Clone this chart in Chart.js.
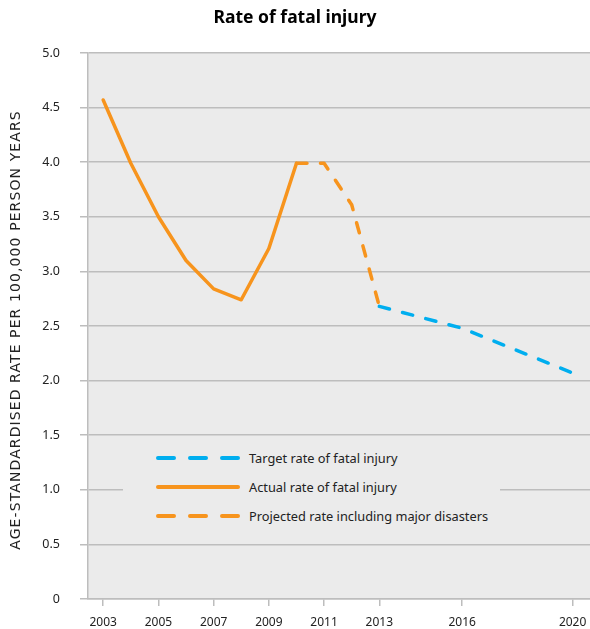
<!DOCTYPE html>
<html lang="en">
<head>
    <meta charset="UTF-8">
    <script src="https://cdn.jsdelivr.net/npm/chart.js"></script>
    <title>Rate of fatal injury</title>
    <style>
        body {
            margin: 0;
            background: #fff;
            font-family: "Noto Sans", sans-serif;
        }
        .wrap {
            position: relative;
            width: 590px;
            height: 629px;
        }
        #legend {
            position: absolute;
            left: 123px;
            top: 444px;
            width: 377px;
            height: 88px;
            background: #ebebeb;
        }
        .row {
            position: absolute;
            left: 33px;
            height: 20px;
            display: flex;
            align-items: center;
            font-size: 12.8px;
            color: #222;
            white-space: nowrap;
        }
        .row svg {
            margin-right: 9px;
        }
    </style>
</head>
<body>

<div class="wrap">
    <canvas id="chart" width="590" height="629"></canvas>
    <div id="legend"></div>
</div>

<script>
    // data
    const actualYears = [2003, 2004, 2005, 2006, 2007, 2008, 2009, 2010];
    const actualRate = [4.57, 3.99, 3.50, 3.10, 2.84, 2.74, 3.21, 3.99];

    const projectedYears = [2010, 2011, 2012, 2013];
    const projectedRate = [3.99, 3.99, 3.61, 2.68];

    const targetYears = [2013, 2016, 2020];
    const targetRate = [2.68, 2.48, 2.07];

    const tickYears = [2003, 2005, 2007, 2009, 2011, 2013, 2016, 2020];
    const tickLabels = ['2003', '2005', '2007', '2009', '2011', '2013', '2016', '2020'];

    const legendLabels = ['Target rate of fatal injury', 'Actual rate of fatal injury', 'Projected rate including major disasters'];
    const yTitle = 'AGE-STANDARDISED RATE PER 100,000 PERSON YEARS';

    const orange = '#f7941d';
    const blue = '#00aeef';
    const gridColor = '#bdbdbd';

    function toPoints(xs, ys) {
        return xs.map((x, i) => ({x: x, y: ys[i]}));
    }

    // grey plot background
    const plotBg = {
        id: 'plotBg',
        beforeDraw(chart) {
            const a = chart.chartArea;
            const ctx = chart.ctx;
            ctx.save();
            ctx.fillStyle = '#ebebeb';
            ctx.fillRect(a.left, a.top, a.right - a.left, a.bottom - a.top);
            ctx.restore();
        }
    };

    // y axis title, drawn by hand so it can be letter-spaced like the original
    const yTitlePlugin = {
        id: 'yTitle',
        afterDraw(chart) {
            const a = chart.chartArea;
            const ctx = chart.ctx;
            ctx.save();
            ctx.translate(16.5, (a.top + a.bottom) / 2 + 4);
            ctx.rotate(-Math.PI / 2);
            ctx.font = '14px "DejaVu Sans"';
            ctx.letterSpacing = '1.1px';
            ctx.fillStyle = '#222';
            ctx.textAlign = 'center';
            ctx.textBaseline = 'middle';
            ctx.fillText(yTitle, 0, 0);
            ctx.restore();
        }
    };

    const lineBase = {
        borderWidth: 3.5,
        pointRadius: 0,
        tension: 0,
        fill: false,
        borderCapStyle: 'round',
        borderJoinStyle: 'round'
    };

    var chart = new Chart(document.getElementById('chart'), {
        type: 'line',
        data: {
            datasets: [
                Object.assign({label: legendLabels[1], data: toPoints(actualYears, actualRate), borderColor: orange}, lineBase),
                Object.assign({label: legendLabels[2], data: toPoints(projectedYears, projectedRate), borderColor: orange, borderDash: [10.5, 13.5]}, lineBase),
                Object.assign({label: legendLabels[0], data: toPoints(targetYears, targetRate), borderColor: blue, borderDash: [10.5, 13.5]}, lineBase)
            ]
        },
        options: {
            responsive: false,
            animation: false,
            layout: {padding: 0},
            scales: {
                x: {
                    type: 'linear',
                    min: 2002.45,
                    max: 2020.63,
                    afterBuildTicks(scale) {
                        scale.ticks = tickYears.map(v => ({value: v}));
                    },
                    afterFit(scale) {
                        scale.height = 30;
                        scale.paddingLeft = 0;
                        scale.paddingRight = 0;
                    },
                    ticks: {
                        autoSkip: false,
                        maxRotation: 0,
                        padding: 9,
                        color: '#222',
                        font: {family: 'Noto Sans', size: 12},
                        callback: (v, i) => tickLabels[i]
                    },
                    grid: {
                        drawOnChartArea: false,
                        drawTicks: true,
                        tickLength: 7,
                        color: gridColor,
                        lineWidth: 1.5
                    },
                    border: {display: true, color: gridColor, width: 1.5}
                },
                y: {
                    min: 0,
                    max: 5,
                    afterFit(scale) {
                        scale.width = 88;
                    },
                    ticks: {
                        stepSize: 0.5,
                        padding: 20,
                        color: '#222',
                        font: {family: 'Noto Sans', size: 12.5},
                        callback: v => v === 0 ? '0' : v.toFixed(1)
                    },
                    grid: {
                        color: gridColor,
                        lineWidth: 1.5,
                        tickLength: 8
                    },
                    border: {display: true, color: gridColor, width: 1.5}
                }
            },
            plugins: {
                legend: {display: false},
                tooltip: {enabled: false},
                title: {
                    display: true,
                    text: 'Rate of fatal injury',
                    color: '#000',
                    font: {family: 'Noto Sans', size: 17.5, weight: 'bold'},
                    padding: {top: 8, bottom: 24}
                }
            }
        },
        plugins: [plotBg, yTitlePlugin]
    });

    // legend inside the plot, built as html
    const legendItems = [
        {text: legendLabels[0], color: blue, dashed: true},
        {text: legendLabels[1], color: orange, dashed: false},
        {text: legendLabels[2], color: orange, dashed: true}
    ];
    const legendBox = document.getElementById('legend');
    legendItems.forEach((item, i) => {
        const row = document.createElement('div');
        row.className = 'row';
        row.style.top = (4 + i * 29) + 'px';
        const dash = item.dashed ? ' stroke-dasharray="16 16"' : '';
        row.innerHTML = '<svg width="84" height="8"><line x1="2" y1="4" x2="82" y2="4" stroke="' + item.color +
            '" stroke-width="4" stroke-linecap="round"' + dash + '/></svg><span>' + item.text + '</span>';
        legendBox.appendChild(row);
    });
</script>

</body>
</html>
